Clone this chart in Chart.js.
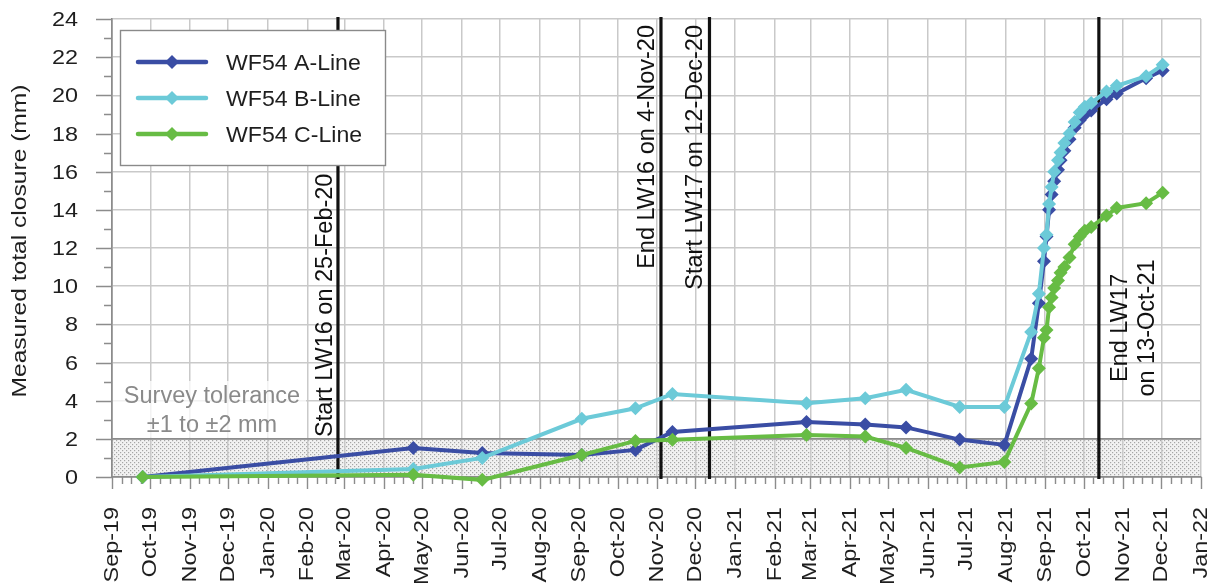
<!DOCTYPE html>
<html>
<head>
<meta charset="utf-8">
<script src="https://cdn.jsdelivr.net/npm/chart.js@4.4.1/dist/chart.umd.min.js"></script>
<style>
  html, body { margin: 0; padding: 0; background: #fff; }
  #wrap { width: 1216px; height: 588px; position: relative; }
</style>
</head>
<body>
<div id="wrap"><canvas id="closure" width="1216" height="588"></canvas></div>
<script>
// Survey dates shared by all three monitoring lines
const surveyDates = [
  '2019-09-25', '2020-04-24', '2020-06-17', '2020-09-03', '2020-10-15', '2020-11-13',
  '2021-02-26', '2021-04-13', '2021-05-15', '2021-06-26', '2021-07-31',
  '2021-08-21', '2021-08-27', '2021-08-31', '2021-09-02', '2021-09-04', '2021-09-06',
  '2021-09-08', '2021-09-11', '2021-09-13', '2021-09-16', '2021-09-20', '2021-09-24',
  '2021-09-28', '2021-10-02', '2021-10-07', '2021-10-19', '2021-10-27', '2021-11-19',
  '2021-12-02'
];

// Measured total closure (mm)
const lineA = [0, 1.52, 1.26, 1.15, 1.42, 2.36, 2.88, 2.75, 2.6, 1.96, 1.68,
  6.2, 9.1, 11.3, 12.6, 14.0, 14.8, 15.5, 16.1, 16.6, 17.1, 17.7, 18.3, 18.7, 19.0, 19.2,
  19.8, 20.1, 20.9, 21.3];
const lineB = [0, 0.42, 1.0, 3.05, 3.6, 4.35, 3.87, 4.13, 4.57, 3.67, 3.67,
  7.6, 9.6, 12.0, 12.7, 14.3, 15.2, 16.0, 16.6, 17.0, 17.5, 18.0, 18.6, 19.1, 19.4, 19.6,
  20.2, 20.5, 21.0, 21.6];
const lineC = [0, 0.12, -0.15, 1.15, 1.89, 1.95, 2.2, 2.12, 1.52, 0.5, 0.79,
  3.85, 5.7, 7.3, 7.7, 8.9, 9.4, 9.9, 10.3, 10.7, 11.0, 11.5, 12.2, 12.6, 12.9, 13.1,
  13.7, 14.1, 14.35, 14.9];

const seriesNames = ['WF54 A-Line', 'WF54 B-Line', 'WF54 C-Line'];
const seriesColors = ['#3a4da4', '#6ccad8', '#67bc44'];

// Axis tick labels
const monthLabels = ['Sep-19', 'Oct-19', 'Nov-19', 'Dec-19', 'Jan-20', 'Feb-20', 'Mar-20', 'Apr-20',
  'May-20', 'Jun-20', 'Jul-20', 'Aug-20', 'Sep-20', 'Oct-20', 'Nov-20', 'Dec-20', 'Jan-21',
  'Feb-21', 'Mar-21', 'Apr-21', 'May-21', 'Jun-21', 'Jul-21', 'Aug-21', 'Sep-21', 'Oct-21',
  'Nov-21', 'Dec-21', 'Jan-22'];
const yTickValues = [0, 2, 4, 6, 8, 10, 12, 14, 16, 18, 20, 22, 24];

// Longwall events
const eventDates = ['2020-02-25', '2020-11-04', '2020-12-12', '2021-10-13'];
const eventTexts = [
  ['Start LW16 on 25-Feb-20'],
  ['End LW16 on 4-Nov-20'],
  ['Start LW17 on 12-Dec-20'],
  ['End LW17', 'on 13-Oct-21']
];

const toleranceLimit = 2;
const toleranceText = ['Survey tolerance', '\u00b11 to \u00b12 mm'];
const yTitle = 'Measured total closure (mm)';

// ---- helpers ----
const DAY = 86400000;
const toDay = s => Date.UTC(+s.slice(0, 4), +s.slice(5, 7) - 1, +s.slice(8, 10)) / DAY;
const MONTHS = ['Jan','Feb','Mar','Apr','May','Jun','Jul','Aug','Sep','Oct','Nov','Dec'];
const monthDay = lbl => Date.UTC(2000 + +lbl.slice(4), MONTHS.indexOf(lbl.slice(0, 3)), 1) / DAY;
const monthDays = monthLabels.map(monthDay);

const toPoints = vals => vals.map((v, i) => ({ x: toDay(surveyDates[i]), y: v }));

const FONT = '"Liberation Sans", Arial, sans-serif';

function drawText(ctx, str, x, y, o) {
  ctx.save();
  ctx.translate(x, y);
  if (o.angle) ctx.rotate(o.angle);
  ctx.scale(o.sx || 1, 1);
  ctx.font = o.font;
  ctx.fillStyle = o.color;
  ctx.textAlign = o.align || 'left';
  ctx.textBaseline = 'alphabetic';
  ctx.fillText(str, 0, 0);
  ctx.restore();
}

function diamond(ctx, x, y, r, color) {
  ctx.beginPath();
  ctx.moveTo(x, y - r);
  ctx.lineTo(x + r, y);
  ctx.lineTo(x, y + r);
  ctx.lineTo(x - r, y);
  ctx.closePath();
  ctx.fillStyle = color;
  ctx.fill();
}

function dotPattern(ctx) {
  const t = document.createElement('canvas');
  t.width = 4; t.height = 4;
  const c = t.getContext('2d');
  c.fillStyle = '#f2f2f2';
  c.fillRect(0, 0, 4, 4);
  c.fillStyle = '#a6a6a6';
  c.fillRect(0, 0, 1.2, 1.2);
  c.fillRect(2, 2, 1.2, 1.2);
  return ctx.createPattern(t, 'repeat');
}

// Tolerance band under the grid
const bandPlugin = {
  id: 'toleranceBand',
  beforeDraw(chart) {
    const { ctx, chartArea: a, scales: { y } } = chart;
    const top = y.getPixelForValue(toleranceLimit);
    const bottom = y.getPixelForValue(0);
    ctx.save();
    ctx.fillStyle = dotPattern(ctx);
    ctx.fillRect(a.left, top, a.right - a.left, bottom - top);
    ctx.restore();
  }
};

// Annotations, ticks, titles
const annotationPlugin = {
  id: 'annotations',
  beforeDatasetsDraw(chart) {
    const { ctx, chartArea: a, scales: { x, y } } = chart;
    ctx.save();
    // band top edge
    const top = y.getPixelForValue(toleranceLimit);
    ctx.strokeStyle = '#8c8c8c';
    ctx.lineWidth = 1.6;
    ctx.beginPath(); ctx.moveTo(a.left, top); ctx.lineTo(a.right, top); ctx.stroke();

    // tolerance note
    ctx.fillStyle = 'rgba(255,255,255,0.75)';
    ctx.fillRect(a.left + 1, 381, 193, top - 381 - 1);
    drawText(ctx, toleranceText[0], 212, 403, { font: '23.5px ' + FONT, color: '#8a8a8a', align: 'center' });
    drawText(ctx, toleranceText[1], 212, 432, { font: '23.5px ' + FONT, color: '#8a8a8a', align: 'center' });

    // tick marks
    ctx.strokeStyle = '#8c8c8c';
    ctx.lineWidth = 1.4;
    ctx.beginPath();
    for (let v = 0; v <= 24; v++) {
      const py = Math.round(y.getPixelForValue(v)) + 0.5;
      const len = v % 2 === 0 ? 16 : 8;
      ctx.moveTo(a.left - len, py); ctx.lineTo(a.left, py);
    }
    for (let i = 0; i < monthDays.length; i++) {
      const px = Math.round(x.getPixelForValue(monthDays[i])) + 0.5;
      ctx.moveTo(px, a.bottom); ctx.lineTo(px, a.bottom + 12);
      if (i < monthDays.length - 1) {
        const span = monthDays[i + 1] - monthDays[i];
        for (let k = 1; k < 4; k++) {
          const mx = Math.round(x.getPixelForValue(monthDays[i] + span * k / 4)) + 0.5;
          ctx.moveTo(mx, a.bottom); ctx.lineTo(mx, a.bottom + 7);
        }
      }
    }
    ctx.stroke();

    // event lines
    ctx.strokeStyle = '#111';
    ctx.lineWidth = 3.2;
    eventDates.forEach(d => {
      const px = x.getPixelForValue(toDay(d));
      ctx.beginPath(); ctx.moveTo(px, a.top - 2); ctx.lineTo(px, a.bottom + 2); ctx.stroke();
    });

    // event labels
    const ef = '23.5px ' + FONT;
    const up = -Math.PI / 2;
    const col = '#111';
    const e0 = x.getPixelForValue(toDay(eventDates[0]));
    drawText(ctx, eventTexts[0][0], e0 - 6, 437, { font: ef, color: col, angle: up, align: 'left' });
    const e1 = x.getPixelForValue(toDay(eventDates[1]));
    drawText(ctx, eventTexts[1][0], e1 - 7, 25, { font: ef, color: col, angle: up, align: 'right' });
    const e2 = x.getPixelForValue(toDay(eventDates[2]));
    drawText(ctx, eventTexts[2][0], e2 - 7, 25, { font: ef, color: col, angle: up, align: 'right' });
    const e3 = x.getPixelForValue(toDay(eventDates[3]));
    drawText(ctx, eventTexts[3][0], e3 + 28, 328, { font: ef, color: col, angle: up, align: 'center' });
    drawText(ctx, eventTexts[3][1], e3 + 55, 328, { font: ef, color: col, angle: up, align: 'center' });

    // y tick labels
    yTickValues.forEach(v => {
      const py = y.getPixelForValue(v);
      drawText(ctx, String(v), 78, py + 7, { font: '19.5px ' + FONT, color: '#1e1e1e', sx: 1.2, align: 'right' });
    });
    // x tick labels
    monthLabels.forEach((lbl, i) => {
      const px = x.getPixelForValue(monthDays[i]);
      drawText(ctx, lbl, px + 6, a.bottom + 30, { font: '19.5px ' + FONT, color: '#1e1e1e', sx: 1.2, angle: up, align: 'right' });
    });
    // y title
    drawText(ctx, yTitle, 26, 241, { font: '20px ' + FONT, color: '#1e1e1e', sx: 1.23, angle: up, align: 'center' });
    ctx.restore();
  },
  afterDraw(chart) {
    const { ctx } = chart;
    ctx.save();
    // legend box
    ctx.fillStyle = '#fff';
    ctx.fillRect(120, 30, 265, 135);
    ctx.strokeStyle = '#8a8a8a';
    ctx.lineWidth = 1.4;
    ctx.strokeRect(120.5, 30.5, 265, 135);
    const rows = [62, 98, 134];
    chart.data.datasets.forEach((ds, i) => {
      const ry = rows[i];
      ctx.strokeStyle = ds.borderColor;
      ctx.lineWidth = 4.5;
      ctx.lineCap = 'round';
      ctx.beginPath(); ctx.moveTo(138, ry); ctx.lineTo(206, ry); ctx.stroke();
      diamond(ctx, 172, ry, 7, ds.borderColor);
      drawText(ctx, ds.label, 226, ry + 8, { font: '22px ' + FONT, color: '#1e1e1e', sx: 1.05 });
    });
    ctx.restore();
  }
};

const series = [lineA, lineB, lineC];
const datasets = series.map((vals, i) => ({
  label: seriesNames[i],
  data: toPoints(vals),
  borderColor: seriesColors[i],
  backgroundColor: seriesColors[i],
  borderWidth: 4,
  pointStyle: 'rectRot',
  pointRadius: 7,
  pointBorderWidth: 0,
  tension: 0,
  clip: false,
  order: 3 - i
}));

const gridStyle = { color: '#c9c9c9', lineWidth: 1.5, drawTicks: false };
const borderStyle = { color: '#8c8c8c', width: 1.7 };

new Chart(document.getElementById('closure'), {
  type: 'line',
  data: { datasets },
  options: {
    responsive: false,
    animation: false,
    devicePixelRatio: 1,
    layout: { padding: { top: 19, right: 15, left: 0, bottom: 0 } },
    plugins: { legend: { display: false }, tooltip: { enabled: false } },
    scales: {
      x: {
        type: 'linear',
        min: monthDays[0],
        max: monthDays[monthDays.length - 1],
        afterBuildTicks(s) { s.ticks = monthDays.map(v => ({ value: v })); },
        afterFit(s) { s.height = 111; },
        ticks: { display: false },
        grid: gridStyle,
        border: borderStyle
      },
      y: {
        min: 0,
        max: 24,
        afterBuildTicks(s) { s.ticks = yTickValues.map(v => ({ value: v })); },
        afterFit(s) { s.width = 112; },
        ticks: { display: false },
        grid: gridStyle,
        border: borderStyle
      }
    }
  },
  plugins: [bandPlugin, annotationPlugin]
});
</script>
</body>
</html>
